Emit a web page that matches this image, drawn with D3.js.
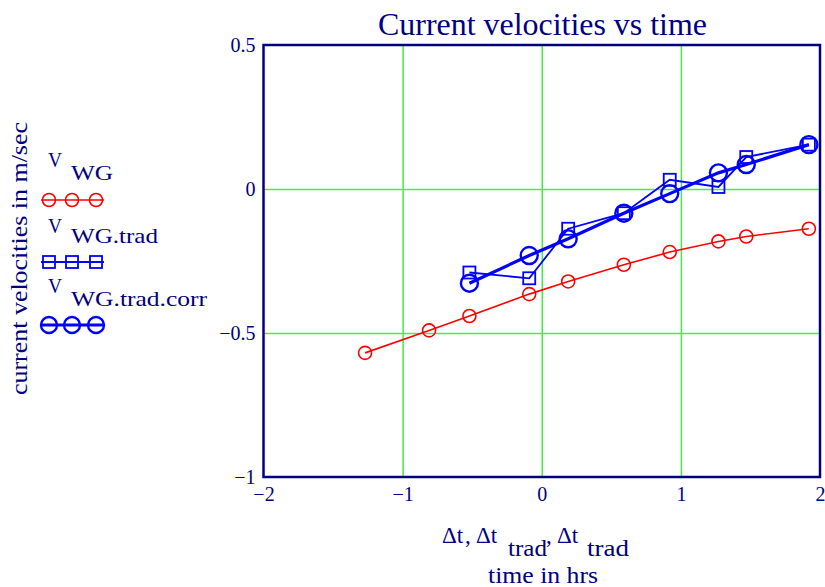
<!DOCTYPE html>
<html lang="en">
<head>
  <meta charset="UTF-8">
  <title>Current velocities vs time</title>
  <script src="https://d3js.org/d3.v7.min.js"></script>
  <style>
    body {
      margin: 0;
      background: #fff;
      font-family: "Liberation Serif", "Times New Roman", serif;
    }
    svg text {
      fill: #000080;
    }
    .grid line {
      stroke: #44ee44;
      stroke-width: 1.5;
    }
  </style>
</head>
<body>
  <div id="chart"></div>

  <script>
    // Data
    const dt = [-1.27, -0.81, -0.52, -0.09, 0.19, 0.59, 0.92, 1.27, 1.47, 1.92];
    const vWG = [-0.569, -0.491, -0.441, -0.365, -0.321, -0.263, -0.219, -0.182, -0.165, -0.138];
    const dtTrad = [-0.52, -0.09, 0.19, 0.59, 0.92, 1.27, 1.47, 1.92];
    const vWGTrad = [-0.29, -0.31, -0.138, -0.084, 0.032, 0.007, 0.111, 0.154];
    const vWGTradCorr = [-0.327, -0.231, -0.173, -0.084, -0.016, 0.056, 0.085, 0.154];

    const xTicks = [-2, -1, 0, 1, 2];
    const yTicks = [-1, -0.5, 0, 0.5];

    const width = 825;
    const height = 587;
    const plot = { left: 263.5, right: 820, top: 45, bottom: 477 };

    const x = d3.scaleLinear().domain([-2, 2]).range([plot.left, plot.right]);
    const y = d3.scaleLinear().domain([-1, 0.5]).range([plot.bottom, plot.top]);

    const fmt = d => (d < 0 ? "\u2212" : "") + Math.abs(d);

    const svg = d3.select("#chart")
      .append("svg")
      .attr("width", width)
      .attr("height", height);

    // grid lines (inner ticks only)
    svg.append("g")
      .attr("class", "grid")
      .attr("transform", `translate(0,${plot.bottom})`)
      .call(d3.axisBottom(x).tickValues(xTicks.slice(1, -1))
        .tickSize(-(plot.bottom - plot.top)).tickFormat(""))
      .call(g => g.select(".domain").remove());

    svg.append("g")
      .attr("class", "grid")
      .attr("transform", `translate(${plot.left},0)`)
      .call(d3.axisLeft(y).tickValues(yTicks.slice(1, -1))
        .tickSize(-(plot.right - plot.left)).tickFormat(""))
      .call(g => g.select(".domain").remove());

    // tick labels
    svg.append("g")
      .attr("transform", `translate(0,${plot.bottom})`)
      .call(d3.axisBottom(x).tickValues(xTicks).tickSize(0).tickPadding(10).tickFormat(fmt))
      .call(g => g.select(".domain").remove())
      .call(g => g.selectAll("text")
        .style("font-size", "20px")
        .style("font-family", "Liberation Serif")
        .attr("fill", "#000080"));

    svg.append("g")
      .attr("transform", `translate(${plot.left},0)`)
      .call(d3.axisLeft(y).tickValues(yTicks).tickSize(0).tickPadding(8).tickFormat(fmt))
      .call(g => g.select(".domain").remove())
      .call(g => g.selectAll("text")
        .style("font-size", "20px")
        .style("font-family", "Liberation Serif")
        .attr("fill", "#000080"));

    // frame
    svg.append("rect")
      .attr("x", plot.left)
      .attr("y", plot.top)
      .attr("width", plot.right - plot.left)
      .attr("height", plot.bottom - plot.top)
      .attr("fill", "none")
      .attr("stroke", "#000080")
      .attr("stroke-width", 2.5);

    const line = d3.line().x(d => x(d[0])).y(d => y(d[1]));

    const wg = dt.map((t, i) => [t, vWG[i]]);
    const trad = dtTrad.map((t, i) => [t, vWGTrad[i]]);
    const corr = dtTrad.map((t, i) => [t, vWGTradCorr[i]]);

    // V_WG (red)
    svg.append("path").datum(wg)
      .attr("d", line).attr("fill", "none")
      .attr("stroke", "#ff0000").attr("stroke-width", 1.6);
    svg.selectAll(".ptWG").data(wg).enter().append("circle")
      .attr("cx", d => x(d[0])).attr("cy", d => y(d[1])).attr("r", 6.5)
      .attr("fill", "none").attr("stroke", "#ff0000").attr("stroke-width", 1.6);

    // V_WG.trad (blue squares)
    svg.append("path").datum(trad)
      .attr("d", line).attr("fill", "none")
      .attr("stroke", "#0000ff").attr("stroke-width", 1.8);
    svg.selectAll(".ptTrad").data(trad).enter().append("rect")
      .attr("x", d => x(d[0]) - 6).attr("y", d => y(d[1]) - 6)
      .attr("width", 12).attr("height", 12)
      .attr("fill", "none").attr("stroke", "#0000ff").attr("stroke-width", 1.8);

    // V_WG.trad.corr (thick blue circles)
    svg.append("path").datum(corr)
      .attr("d", line).attr("fill", "none")
      .attr("stroke", "#0000ff").attr("stroke-width", 3.2);
    svg.selectAll(".ptCorr").data(corr).enter().append("circle")
      .attr("cx", d => x(d[0])).attr("cy", d => y(d[1])).attr("r", 8.5)
      .attr("fill", "none").attr("stroke", "#0000ff").attr("stroke-width", 2.4);

    // title
    svg.append("text")
      .attr("x", 542.5).attr("y", 35)
      .attr("text-anchor", "middle")
      .attr("textLength", 329).attr("lengthAdjust", "spacingAndGlyphs")
      .style("font-size", "32px")
      .text("Current velocities vs time");

    // y label
    svg.append("text")
      .attr("transform", "translate(27,258.5) rotate(-90)")
      .attr("text-anchor", "middle")
      .attr("textLength", 273).attr("lengthAdjust", "spacingAndGlyphs")
      .style("font-size", "23px")
      .text("current velocities in m/sec");

    // x label
    const xl = svg.append("text").style("font-size", "23px");
    xl.append("tspan").attr("x", 442).attr("y", 543).text("\u0394t");
    xl.append("tspan").attr("x", 465).attr("y", 543).text(",");
    xl.append("tspan").attr("x", 476).attr("y", 543).text("\u0394t");
    xl.append("tspan").attr("x", 508).attr("y", 556)
      .attr("textLength", 39).attr("lengthAdjust", "spacingAndGlyphs").text("trad");
    xl.append("tspan").attr("x", 546).attr("y", 543).text(",");
    xl.append("tspan").attr("x", 557).attr("y", 543).text("\u0394t");
    xl.append("tspan").attr("x", 587).attr("y", 556)
      .attr("textLength", 42).attr("lengthAdjust", "spacingAndGlyphs").text("trad");

    svg.append("text")
      .attr("x", 543).attr("y", 583)
      .attr("text-anchor", "middle")
      .attr("textLength", 110).attr("lengthAdjust", "spacingAndGlyphs")
      .style("font-size", "23px")
      .text("time in hrs");

    // legend
    const legend = [
      { sub: "WG", subLen: 42, vY: 167, subY: 180, markY: 200, color: "#ff0000", shape: "circle", r: 6.5, sw: 1.6, lw: 1.6 },
      { sub: "WG.trad", subLen: 87, vY: 233, subY: 243, markY: 262, color: "#0000ff", shape: "square", r: 6, sw: 1.8, lw: 1.8 },
      { sub: "WG.trad.corr", subLen: 136, vY: 293, subY: 306, markY: 325, color: "#0000ff", shape: "circle", r: 8, sw: 2.4, lw: 3.2 }
    ];
    const markX = [49, 72, 96];

    legend.forEach(l => {
      svg.append("text").attr("x", 48).attr("y", l.vY)
        .attr("textLength", 14).attr("lengthAdjust", "spacingAndGlyphs")
        .style("font-size", "21px").text("V");
      svg.append("text").attr("x", 71).attr("y", l.subY)
        .attr("textLength", l.subLen).attr("lengthAdjust", "spacingAndGlyphs")
        .style("font-size", "21px").text(l.sub);
      svg.append("line")
        .attr("x1", 41).attr("x2", 104).attr("y1", l.markY).attr("y2", l.markY)
        .attr("stroke", l.color).attr("stroke-width", l.lw);
      markX.forEach(mx => {
        if (l.shape === "circle") {
          svg.append("circle").attr("cx", mx).attr("cy", l.markY).attr("r", l.r)
            .attr("fill", "none").attr("stroke", l.color).attr("stroke-width", l.sw);
        } else {
          svg.append("rect").attr("x", mx - l.r).attr("y", l.markY - l.r)
            .attr("width", l.r * 2).attr("height", l.r * 2)
            .attr("fill", "none").attr("stroke", l.color).attr("stroke-width", l.sw);
        }
      });
    });
  </script>
</body>
</html>
